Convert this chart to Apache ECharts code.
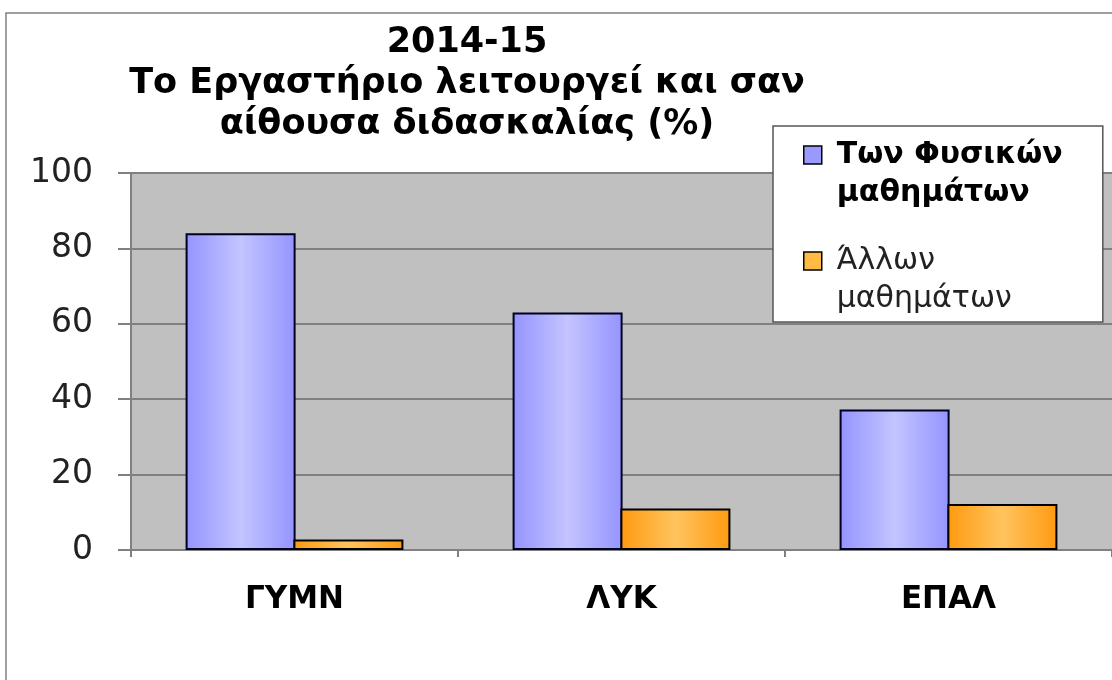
<!DOCTYPE html>
<html>
<head>
<meta charset="utf-8">
<script src="https://cdn.jsdelivr.net/npm/echarts@6/dist/echarts.min.js"></script>
<style>
  html, body { margin: 0; padding: 0; background: #fff; }
  #main { width: 1112px; height: 680px; }
</style>
</head>
<body>
<div id="main"></div>
<script>
// data
var categories = ['ΓΥΜΝ', 'ΛΥΚ', 'ΕΠΑΛ'];
var seriesNames = ['Των Φυσικών\nμαθημάτων', 'Άλλων\nμαθημάτων'];
var physicsValues = [84, 63, 37.3];
var otherValues = [2.8, 11, 12.2];
var yTicks = [0, 20, 40, 60, 80, 100];

var chart = echarts.init(document.getElementById('main'));

function hGrad(edge, mid) {
  return new echarts.graphic.LinearGradient(0, 0, 1, 0, [
    { offset: 0, color: edge },
    { offset: 0.5, color: mid },
    { offset: 1, color: edge }
  ]);
}

var option = {
  backgroundColor: '#fff',
  animation: false,
  title: {
    text: '2014-15\nΤο Εργαστήριο λειτουργεί και σαν\nαίθουσα διδασκαλίας (%)',
    left: 462,
    top: 17,
    textAlign: 'center',
    textStyle: {
      fontFamily: 'DejaVu Sans',
      fontWeight: 'bold',
      fontSize: 35,
      lineHeight: 41,
      color: '#000'
    }
  },
  graphic: [{
    type: 'rect',
    z: -10,
    shape: { x: 6, y: 13, width: 1300, height: 900 },
    style: { fill: 'none', stroke: '#808080', lineWidth: 1.5 }
  }],
  grid: {
    left: 131,
    top: 173,
    right: -6,
    bottom: 130,
    show: true,
    backgroundColor: '#c0c0c0',
    borderWidth: 0
  },
  legend: {
    orient: 'vertical',
    left: 773,
    top: 126,
    backgroundColor: '#fff',
    borderColor: '#555',
    borderWidth: 1.5,
    borderRadius: 0,
    padding: [14, 40, 8, 30],
    itemGap: 38,
    itemWidth: 18,
    itemHeight: 56,
    selectedMode: false,
    data: [
      { name: seriesNames[0], icon: 'path://M0,0H18V18H0Z M0,56',
        itemStyle: { color: '#9999ff', borderColor: '#000', borderWidth: 1.5 } },
      { name: seriesNames[1], icon: 'path://M0,0H18V18H0Z M0,56',
        itemStyle: { color: '#ffbb44', borderColor: '#000', borderWidth: 1.5 } }
    ],
    formatter: function (name) {
      return name === seriesNames[0] ? '{b|' + name + '}' : '{n|' + name + '}';
    },
    textStyle: {
      padding: [0, 0, 0, 10],
      rich: {
        b: { fontFamily: 'DejaVu Sans', fontWeight: 'bold', fontSize: 30, lineHeight: 38, color: '#000' },
        n: { fontFamily: 'DejaVu Sans', fontWeight: 'normal', fontSize: 30, lineHeight: 38, color: '#222' }
      }
    }
  },
  xAxis: {
    type: 'category',
    data: categories,
    axisLine: { lineStyle: { color: '#808080', width: 2 } },
    axisTick: { show: true, alignWithLabel: false, length: 7, lineStyle: { color: '#808080', width: 2 } },
    axisLabel: {
      margin: 34,
      color: '#000',
      fontFamily: 'DejaVu Sans',
      fontWeight: 'bold',
      fontSize: 31
    }
  },
  yAxis: {
    type: 'value',
    min: yTicks[0],
    max: yTicks[yTicks.length - 1],
    interval: yTicks[1] - yTicks[0],
    axisLine: { show: true, lineStyle: { color: '#808080', width: 2 } },
    axisTick: { show: true, length: 13, lineStyle: { color: '#808080', width: 2 } },
    splitLine: { show: true, lineStyle: { color: '#808080', width: 2 } },
    axisLabel: {
      margin: 38,
      color: '#222',
      fontFamily: 'DejaVu Sans',
      fontSize: 33
    }
  },
  series: [
    {
      name: seriesNames[0],
      type: 'bar',
      data: physicsValues,
      barWidth: 110,
      barGap: '-2%',
      itemStyle: { color: hGrad('#9494ff', '#c4c4ff'), borderColor: '#000022', borderWidth: 2 }
    },
    {
      name: seriesNames[1],
      type: 'bar',
      data: otherValues,
      barWidth: 110,
      barGap: '-2%',
      itemStyle: { color: hGrad('#ff9a10', '#ffc45e'), borderColor: '#000', borderWidth: 2 }
    }
  ]
};

chart.setOption(option);
</script>
</body>
</html>
